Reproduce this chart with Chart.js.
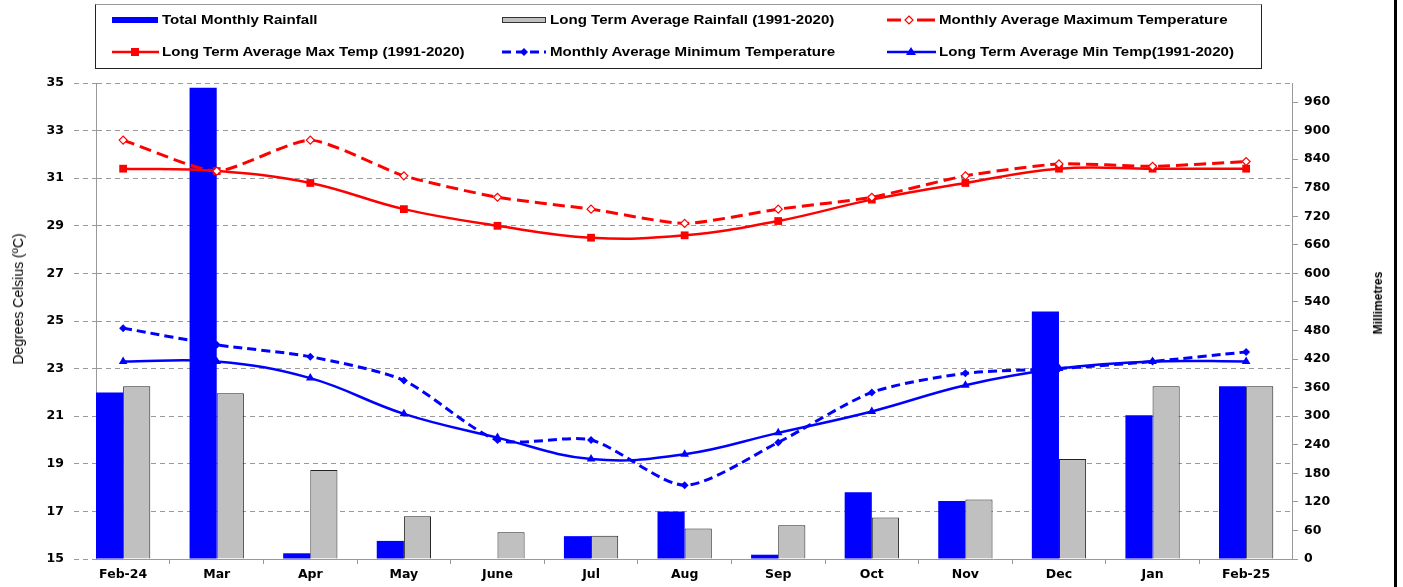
<!DOCTYPE html>
<html>
<head>
<meta charset="utf-8">
<script src="https://cdn.jsdelivr.net/npm/chart.js@4.4.0/dist/chart.umd.min.js"></script>
<style>
  body { margin: 0; background: #fff; }
  #wrap { position: relative; width: 1403px; height: 587px; background: #fff; overflow: hidden; }
  #c { position: absolute; left: 0; top: 0; }
  .lg { position: absolute; left: 95px; top: 4px; width: 1167px; height: 65px; border: 1px solid #222; border-top-color: #999; box-sizing: border-box; }
  .item { position: absolute; font: bold 13px "Liberation Sans", Arial, sans-serif; color: #000; white-space: nowrap; line-height: 14px; transform: scaleX(1.16); transform-origin: left center; }
  .sym { position: absolute; }
  .ytitle { position: absolute; white-space: nowrap; transform: translate(-50%, -50%) rotate(-90deg); color: #000; }
  .frame { position: absolute; left: 1394px; top: 0; width: 3px; height: 587px; background: #000; }
</style>
</head>
<body>
<div id="wrap">
  <canvas id="c" width="1403" height="587"></canvas>
  <div class="lg"></div>
  <!-- legend row 1 -->
  <svg class="sym" style="left:112px;top:15px" width="46" height="10"><rect x="0" y="2" width="46" height="6" fill="#0000ff"/></svg>
  <div class="item" style="left:162px;top:13px">Total Monthly Rainfall</div>
  <svg class="sym" style="left:502px;top:15px" width="44" height="10"><rect x="0.5" y="2.5" width="43" height="5" fill="#c0c0c0" stroke="#333"/></svg>
  <div class="item" style="left:550px;top:13px">Long Term Average Rainfall (1991-2020)</div>
  <svg class="sym" style="left:887px;top:13px" width="50" height="14"><line x1="0" y1="7" x2="14" y2="7" stroke="#ff0000" stroke-width="3"/><line x1="30" y1="7" x2="48" y2="7" stroke="#ff0000" stroke-width="3"/><polygon points="22,3 26,7 22,11 18,7" fill="#fff" stroke="#ff0000" stroke-width="1.2"/></svg>
  <div class="item" style="left:939px;top:13px">Monthly Average Maximum Temperature</div>
  <!-- legend row 2 -->
  <svg class="sym" style="left:112px;top:45px" width="48" height="14"><line x1="0" y1="7" x2="47" y2="7" stroke="#ff0000" stroke-width="2.5"/><rect x="19" y="3" width="8" height="8" fill="#ff0000"/></svg>
  <div class="item" style="left:162px;top:45px">Long Term Average Max Temp (1991-2020)</div>
  <svg class="sym" style="left:502px;top:45px" width="46" height="14"><line x1="0" y1="7" x2="44" y2="7" stroke="#0000ff" stroke-width="3" stroke-dasharray="9 5"/><polygon points="22,3 26,7 22,11 18,7" fill="#0000ff"/></svg>
  <div class="item" style="left:550px;top:45px">Monthly Average Minimum Temperature</div>
  <svg class="sym" style="left:887px;top:45px" width="50" height="14"><line x1="0" y1="7" x2="49" y2="7" stroke="#0000ff" stroke-width="2.5"/><polygon points="24,2 29,10 19,10" fill="#0000ff"/></svg>
  <div class="item" style="left:939px;top:45px">Long Term Average Min Temp(1991-2020)</div>
  <!-- axis titles -->
  <div class="ytitle" style="left:18px;top:299px;font:14px 'Liberation Sans Narrow', 'Liberation Sans', Arial, sans-serif">Degrees Celsius (ºC)</div>
  <div class="ytitle" style="left:1378px;top:303px;font:bold 12px 'Liberation Sans Narrow', 'Liberation Sans', Arial, sans-serif">Millimetres</div>
  <div class="frame"></div>
</div>
<script>
const months = ['Feb-24', 'Mar', 'Apr', 'May', 'June', 'Jul', 'Aug', 'Sep', 'Oct', 'Nov', 'Dec', 'Jan', 'Feb-25'];
// rainfall (mm, right axis)
const rainfall = [350, 990, 12, 38, 0, 48, 100, 9, 140, 122, 520, 302, 363];
const rainfallLTA = [363, 348, 187, 90, 56, 49, 64, 71, 87, 125, 210, 363, 363];
// temperatures (degC, left axis)
const maxTemp = [32.6, 31.3, 32.6, 31.1, 30.2, 29.7, 29.1, 29.7, 30.2, 31.1, 31.6, 31.5, 31.7];
const maxTempLTA = [31.4, 31.3, 30.8, 29.7, 29.0, 28.5, 28.6, 29.2, 30.1, 30.8, 31.4, 31.4, 31.4];
const minTemp = [24.7, 24.0, 23.5, 22.5, 20.0, 20.0, 18.1, 19.9, 22.0, 22.8, 23.0, 23.3, 23.7];
const minTempLTA = [23.3, 23.3, 22.6, 21.1, 20.1, 19.2, 19.4, 20.3, 21.2, 22.3, 23.0, 23.3, 23.3];
const tempTicks = [15, 17, 19, 21, 23, 25, 27, 29, 31, 33, 35];

const pts = arr => arr.map((v, i) => ({ x: i, y: v }));
const tickFont = { family: 'DejaVu Sans', size: 12.5, weight: 'bold' };

new Chart(document.getElementById('c').getContext('2d'), {
  type: 'bar',
  data: {
    datasets: [
      {
        type: 'line', label: 'Monthly Average Maximum Temperature', data: pts(maxTemp), yAxisID: 'y',
        borderColor: '#ff0000', borderWidth: 3, borderDash: [12, 6], tension: 0.2,
        pointStyle: 'rectRot', pointRadius: 4, pointBackgroundColor: '#fff', pointBorderColor: '#ff0000', pointBorderWidth: 1.2,
        order: 1
      },
      {
        type: 'line', label: 'Long Term Average Max Temp (1991-2020)', data: pts(maxTempLTA), yAxisID: 'y',
        borderColor: '#ff0000', borderWidth: 2.5, tension: 0.4,
        pointStyle: 'rect', pointRadius: 5.5, pointBackgroundColor: '#ff0000', pointBorderColor: '#ff0000', pointBorderWidth: 0,
        order: 1
      },
      {
        type: 'line', label: 'Monthly Average Minimum Temperature', data: pts(minTemp), yAxisID: 'y',
        borderColor: '#0000ff', borderWidth: 3, borderDash: [9, 5], tension: 0.25,
        pointStyle: 'rectRot', pointRadius: 4, pointBackgroundColor: '#0000ff', pointBorderColor: '#0000ff', pointBorderWidth: 0,
        order: 1
      },
      {
        type: 'line', label: 'Long Term Average Min Temp(1991-2020)', data: pts(minTempLTA), yAxisID: 'y',
        borderColor: '#0000ff', borderWidth: 2.5, tension: 0.4,
        pointStyle: 'triangle', pointRadius: 5, pointBackgroundColor: '#0000ff', pointBorderColor: '#0000ff', pointBorderWidth: 0,
        order: 1
      },
      {
        label: 'Total Monthly Rainfall', data: pts(rainfall), yAxisID: 'y1',
        backgroundColor: '#0000ff', borderWidth: 0,
        categoryPercentage: 0.58, barPercentage: 1, order: 2
      },
      {
        label: 'Long Term Average Rainfall (1991-2020)', data: pts(rainfallLTA), yAxisID: 'y1',
        backgroundColor: '#c0c0c0', borderColor: '#222', borderWidth: 1,
        categoryPercentage: 0.58, barPercentage: 1, order: 2
      }
    ]
  },
  options: {
    responsive: false,
    animation: false,
    layout: { padding: { top: 83, left: 0, right: 0, bottom: 0 } },
    plugins: { legend: { display: false }, tooltip: { enabled: false } },
    scales: {
      x: {
        type: 'linear', min: -0.29, max: 12.49, offset: false,
        afterBuildTicks: s => { s.ticks = months.map((m, i) => ({ value: i })); },
        afterFit: s => { s.height = 28; },
        ticks: { callback: v => months[v], font: tickFont, color: '#000', padding: 3, maxRotation: 0, autoSkip: false },
        grid: { offset: true, drawOnChartArea: false, drawTicks: true, tickLength: 5, color: '#999' },
        border: { color: '#999' }
      },
      y: {
        position: 'left', min: 15, max: 35,
        afterBuildTicks: s => { s.ticks = tempTicks.map(v => ({ value: v })); },
        afterFit: s => { s.width = 96; },
        ticks: { font: tickFont, color: '#000', padding: 10 },
        grid: { color: '#9a9a9a', tickLength: 22, tickBorderDash: [5, 4] },
        border: { color: '#999', dash: [5, 4] }
      },
      y1: {
        position: 'right', min: 0, max: 1000,
        afterBuildTicks: s => { s.ticks = s.ticks.filter(t => t.value % 60 === 0 && t.value <= 960); },
        afterFit: s => { s.width = 111; },
        ticks: { stepSize: 60, font: tickFont, color: '#000', padding: 6 },
        grid: { drawOnChartArea: false, tickLength: 6, color: '#999' },
        border: { color: '#999' }
      }
    }
  }
});
</script>
</body>
</html>
